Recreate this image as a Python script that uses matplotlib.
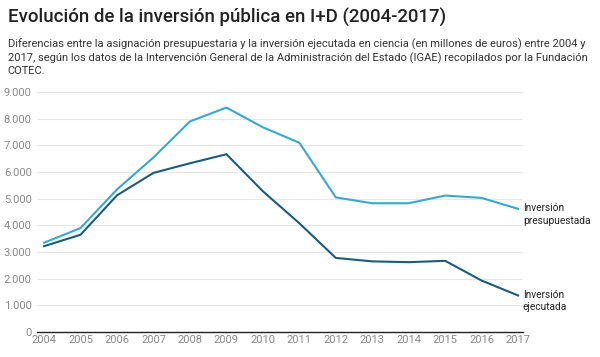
import numpy as np
import matplotlib.pyplot as plt

plt.rcParams['font.family'] = ['Roboto', 'DejaVu Sans']

# Data (millones de euros)
years = list(range(2004, 2018))
presupuestada = [3350, 3900, 5350, 6550, 7900, 8420, 7680, 7100, 5050, 4830, 4830, 5120, 5030, 4620]
ejecutada = [3220, 3650, 5130, 5970, 6330, 6670, 5280, 4080, 2780, 2650, 2620, 2670, 1930, 1370]
yticks = [0, 1000, 2000, 3000, 4000, 5000, 6000, 7000, 8000, 9000]
ytick_labels = ['0', '1.000', '2.000', '3.000', '4.000', '5.000', '6.000', '7.000', '8.000', '9.000']

light = '#39a7d3'
dark = '#1d5b7a'

fig = plt.figure(figsize=(6, 3.57), dpi=100)
ax = fig.add_axes([0.062, 0.070, 0.810, 0.672])

ax.plot(years, presupuestada, color=light, lw=1.5, solid_joinstyle='miter')
ax.plot(years, ejecutada, color=dark, lw=1.5, solid_joinstyle='miter')

ax.set_xlim(2003.81, 2017.14)
ax.set_ylim(0, 9000)
ax.set_yticks(yticks)
ax.set_yticklabels(ytick_labels)
ax.set_xticks(years)
ax.set_xticklabels([str(y) for y in years])
ax.tick_params(axis='both', length=0, labelsize=8, colors='#888888')
ax.tick_params(axis='y', pad=4)
ax.tick_params(axis='x', pad=2)
ax.grid(axis='y', color='#e6e6e6', lw=0.8)
ax.set_axisbelow(True)
for s in ['top', 'right', 'left']:
    ax.spines[s].set_visible(False)
ax.spines['bottom'].set_color('#222222')
ax.spines['bottom'].set_linewidth(1.0)

# Line labels
ax.annotate('Inversión\npresupuestada', (years[-1], presupuestada[-1]),
            xytext=(3.5, 4), textcoords='offset points', va='top', ha='left',
            fontsize=7.3, color='#222222', linespacing=1.3)
ax.annotate('Inversión\nejecutada', (years[-1], ejecutada[-1]),
            xytext=(3.5, 4), textcoords='offset points', va='top', ha='left',
            fontsize=7.3, color='#222222', linespacing=1.3)

fig.text(0.013, 0.950, 'Evolución de la inversión pública en I+D (2004-2017)',
         fontsize=13.4, fontweight='medium', color='#222222', va='center', ha='left')
fig.text(0.013, 0.893,
         'Diferencias entre la asignación presupuestaria y la inversión ejecutada en ciencia (en millones de euros) entre 2004 y\n'
         '2017, según los datos de la Intervención General de la Administración del Estado (IGAE) recopilados por la Fundación\n'
         'COTEC.',
         fontsize=8.05, color='#333333', va='top', ha='left', linespacing=1.3)

fig.savefig('out.png', dpi=100, facecolor='white')
